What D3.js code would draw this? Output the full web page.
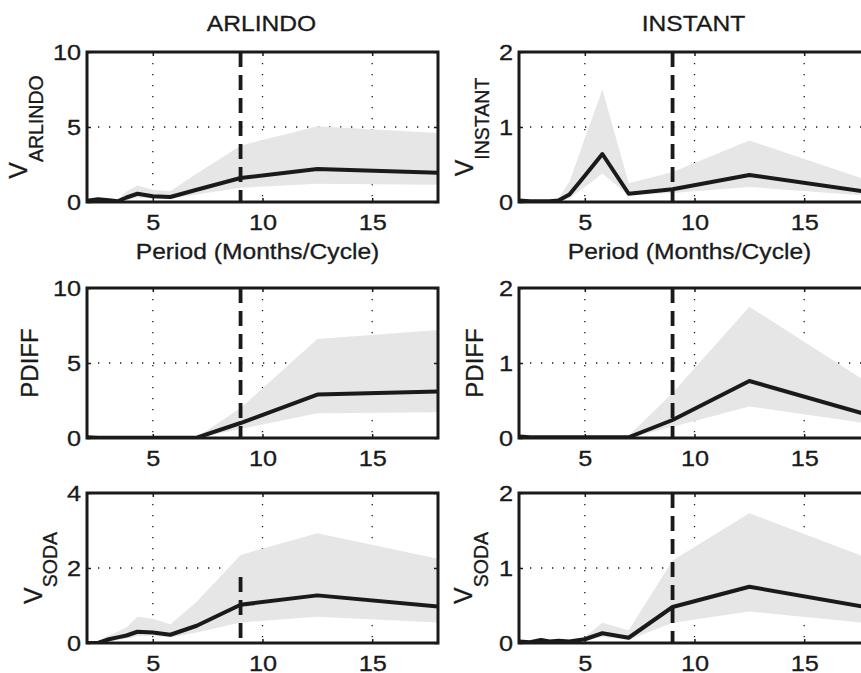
<!DOCTYPE html>
<html><head><meta charset="utf-8">
<script src="https://cdn.jsdelivr.net/npm/d3@7"></script>
<style>
body{margin:0;background:#fff}
svg{display:block}
text{font-family:"Liberation Sans",Arial,Helvetica,sans-serif;fill:#1a1a1a;stroke:#1a1a1a;stroke-width:0.3px}
</style>
</head><body>
<svg id="c" width="861" height="673"></svg>
<script>
// ---------- data ----------
const periods = [2, 2.5, 3, 3.4, 3.8, 4.3, 5, 5.8, 7, 9, 12.5, 18];
const xTicks = [5, 10, 15];
const ticks10 = [0, 5, 10];
const ticks4 = [0, 2, 4];
const ticks2 = [0, 1, 2];
const columnTitles = ["ARLINDO", "INSTANT"];
const xLabel = "Period (Months/Cycle)";
const cutoffPeriod = 9;

// ARLINDO column
const arlV_mean = [0.08, 0.18, 0.12, 0.05, 0.30, 0.55, 0.38, 0.33, 0.82, 1.60, 2.20, 1.95];
const arlV_hi   = [0.12, 0.20, 0.15, 0.15, 0.70, 1.10, 0.82, 0.72, 1.90, 3.75, 5.05, 4.60];
const arlV_lo   = [0.02, 0.05, 0.05, 0.00, 0.10, 0.30, 0.22, 0.20, 0.50, 0.95, 1.22, 1.15];

const arlP_mean = [0.05, 0.02, 0.01, 0.01, 0.01, 0.01, 0.01, 0.01, 0.02, 1.00, 2.90, 3.10];
const arlP_hi   = [0.10, 0.05, 0.02, 0.02, 0.02, 0.02, 0.02, 0.02, 0.05, 2.00, 6.60, 7.20];
const arlP_lo   = [0.00, 0.00, 0.00, 0.00, 0.00, 0.00, 0.00, 0.00, 0.00, 0.60, 1.65, 1.72];

const arlS_mean = [0.00, 0.00, 0.10, 0.15, 0.20, 0.30, 0.28, 0.22, 0.46, 1.02, 1.27, 0.97];
const arlS_hi   = [0.00, 0.05, 0.20, 0.30, 0.42, 0.70, 0.65, 0.50, 1.10, 2.35, 2.93, 2.25];
const arlS_lo   = [0.00, 0.00, 0.05, 0.08, 0.12, 0.18, 0.20, 0.15, 0.28, 0.55, 0.70, 0.55];

// INSTANT column
const insV_mean = [0.02, 0.01, 0.01, 0.01, 0.02, 0.10, 0.35, 0.64, 0.11, 0.17, 0.36, 0.13];
const insV_hi   = [0.04, 0.02, 0.02, 0.02, 0.05, 0.27, 0.85, 1.50, 0.25, 0.40, 0.82, 0.28];
const insV_lo   = [0.00, 0.00, 0.00, 0.00, 0.00, 0.05, 0.20, 0.38, 0.09, 0.12, 0.20, 0.08];

const insP_mean = [0.02, 0.01, 0.01, 0.01, 0.01, 0.01, 0.01, 0.01, 0.01, 0.24, 0.76, 0.30];
const insP_hi   = [0.03, 0.02, 0.02, 0.02, 0.02, 0.02, 0.02, 0.02, 0.03, 0.60, 1.75, 0.72];
const insP_lo   = [0.00, 0.00, 0.00, 0.00, 0.00, 0.00, 0.00, 0.00, 0.00, 0.15, 0.42, 0.19];

const insS_mean = [0.02, 0.01, 0.04, 0.02, 0.03, 0.02, 0.05, 0.13, 0.07, 0.48, 0.75, 0.47];
const insS_hi   = [0.03, 0.02, 0.05, 0.03, 0.04, 0.04, 0.08, 0.27, 0.17, 1.10, 1.73, 1.12];
const insS_lo   = [0.00, 0.00, 0.02, 0.01, 0.01, 0.01, 0.03, 0.08, 0.04, 0.27, 0.42, 0.26];

// ---------- layout ----------
const colX = [87, 519];
const rowY = [52, 288, 493];
const W = 351, H = 150;
const SX = 1.15; // horizontal text stretch seen in the reference

const panels = [
  {col:0,row:0,mean:arlV_mean,hi:arlV_hi,lo:arlV_lo,yTicks:ticks10,lab:["V","ARLINDO"],labOff:60,subDy:16,dashTop:10,xlab:true},
  {col:1,row:0,mean:insV_mean,hi:insV_hi,lo:insV_lo,yTicks:ticks2,lab:["V","INSTANT"],labOff:46,subDy:16,dashTop:2,xlab:true},
  {col:0,row:1,mean:arlP_mean,hi:arlP_hi,lo:arlP_lo,yTicks:ticks10,lab:["PDIFF"],labOff:49,dashTop:10},
  {col:1,row:1,mean:insP_mean,hi:insP_hi,lo:insP_lo,yTicks:ticks2,lab:["PDIFF"],labOff:36,dashTop:2},
  {col:0,row:2,mean:arlS_mean,hi:arlS_hi,lo:arlS_lo,yTicks:ticks4,lab:["V","SODA"],labOff:45,subDy:15,dashTop:1.76},
  {col:1,row:2,mean:insS_mean,hi:insS_hi,lo:insS_lo,yTicks:ticks2,lab:["V","SODA"],labOff:47,subDy:16,dashTop:2}
];

const svg = d3.select("#c");
const ink = "#1a1a1a";

// column titles
columnTitles.forEach((t,i)=>{
  svg.append("text").attr("transform",`translate(${colX[i]+W/2-1},30.5) scale(1.12,1)`)
    .attr("text-anchor","middle").style("font-size","22px").text(t);
});

panels.forEach((p,i)=>{
  const x0 = colX[p.col], y0 = rowY[p.row];
  const yMax = p.yTicks[p.yTicks.length-1];
  const x = d3.scaleLinear().domain([2,18]).range([0,W]);
  const y = d3.scaleLinear().domain([0,yMax]).range([H,0]);
  const g = svg.append("g").attr("transform",`translate(${x0},${y0})`);

  g.append("clipPath").attr("id","clip"+i).append("rect").attr("width",W).attr("height",H);
  const inner = g.append("g").attr("clip-path",`url(#clip${i})`);

  // grid
  inner.selectAll(".gx").data(xTicks).join("line")
    .attr("x1",d=>x(d)).attr("x2",d=>x(d)).attr("y1",0).attr("y2",H)
    .attr("stroke",ink).attr("stroke-width",1.3).attr("stroke-dasharray","1.3 9.7");
  inner.selectAll(".gy").data(p.yTicks.slice(1,-1)).join("line")
    .attr("x1",0).attr("x2",W).attr("y1",d=>y(d)).attr("y2",d=>y(d))
    .attr("stroke",ink).attr("stroke-width",1.3).attr("stroke-dasharray","1.3 9.7");

  const rows = periods.map((pp,k)=>({p:pp,m:p.mean[k],lo:p.lo[k],hi:p.hi[k]}));

  // band
  inner.append("path").datum(rows)
    .attr("d",d3.area().x(d=>x(d.p)).y0(d=>y(d.lo)).y1(d=>y(d.hi)))
    .attr("fill","#e5e6e5");

  // cutoff dashed line
  inner.append("line")
    .attr("x1",x(cutoffPeriod)).attr("x2",x(cutoffPeriod))
    .attr("y1",y(p.dashTop)).attr("y2",y(0))
    .attr("stroke",ink).attr("stroke-width",3.8).attr("stroke-dasharray","15 8");

  // mean line
  inner.append("path").datum(rows)
    .attr("d",d3.line().x(d=>x(d.p)).y(d=>y(d.m)))
    .attr("fill","none").attr("stroke",ink).attr("stroke-width",4)
    .attr("stroke-linejoin","round");

  // axes
  const ax = g.append("g").attr("transform",`translate(0,${H})`)
    .call(d3.axisBottom(x).tickValues(xTicks).tickSize(-4).tickPadding(12).tickFormat(d3.format("d")));
  const ay = g.append("g")
    .call(d3.axisLeft(y).tickValues(p.yTicks).tickSize(-4).tickPadding(6).tickFormat(d3.format("d")));
  g.append("g").call(d3.axisTop(x).tickValues(xTicks).tickSize(-4).tickFormat(""));
  g.append("g").attr("transform",`translate(${W},0)`)
    .call(d3.axisRight(y).tickValues(p.yTicks).tickSize(-4).tickFormat(""));
  g.selectAll(".domain").remove();
  g.selectAll(".tick line").attr("stroke",ink).attr("stroke-width",1.5);
  ax.selectAll("text").style("font-size","22px").attr("fill",ink)
    .attr("transform",`scale(${SX},1)`);
  ay.selectAll("text").style("font-size","22px").attr("fill",ink)
    .attr("x",-6/SX).attr("transform",`scale(${SX},1)`);
  g.selectAll(".tick text").style("font-family",'"Liberation Sans",Arial,sans-serif');

  // frame
  g.append("rect").attr("width",W).attr("height",H)
    .attr("fill","none").attr("stroke",ink).attr("stroke-width",3);

  // y label
  const yl = g.append("text")
    .attr("transform",`translate(${-p.labOff},${H/2}) rotate(-90)`)
    .attr("text-anchor","middle");
  if (p.lab.length===2){
    yl.append("tspan").style("font-size","25px").text(p.lab[0]);
    yl.append("tspan").style("font-size","19.5px").attr("dy",p.subDy).text(p.lab[1]);
  } else {
    yl.append("tspan").style("font-size","24px").text(p.lab[0]);
  }

  // x label
  if (p.xlab){
    g.append("text").attr("transform",`translate(${W/2-5},${H+57}) scale(1.12,1)`)
      .attr("text-anchor","middle").style("font-size","22px").text(xLabel);
  }
});
</script>
</body></html>
